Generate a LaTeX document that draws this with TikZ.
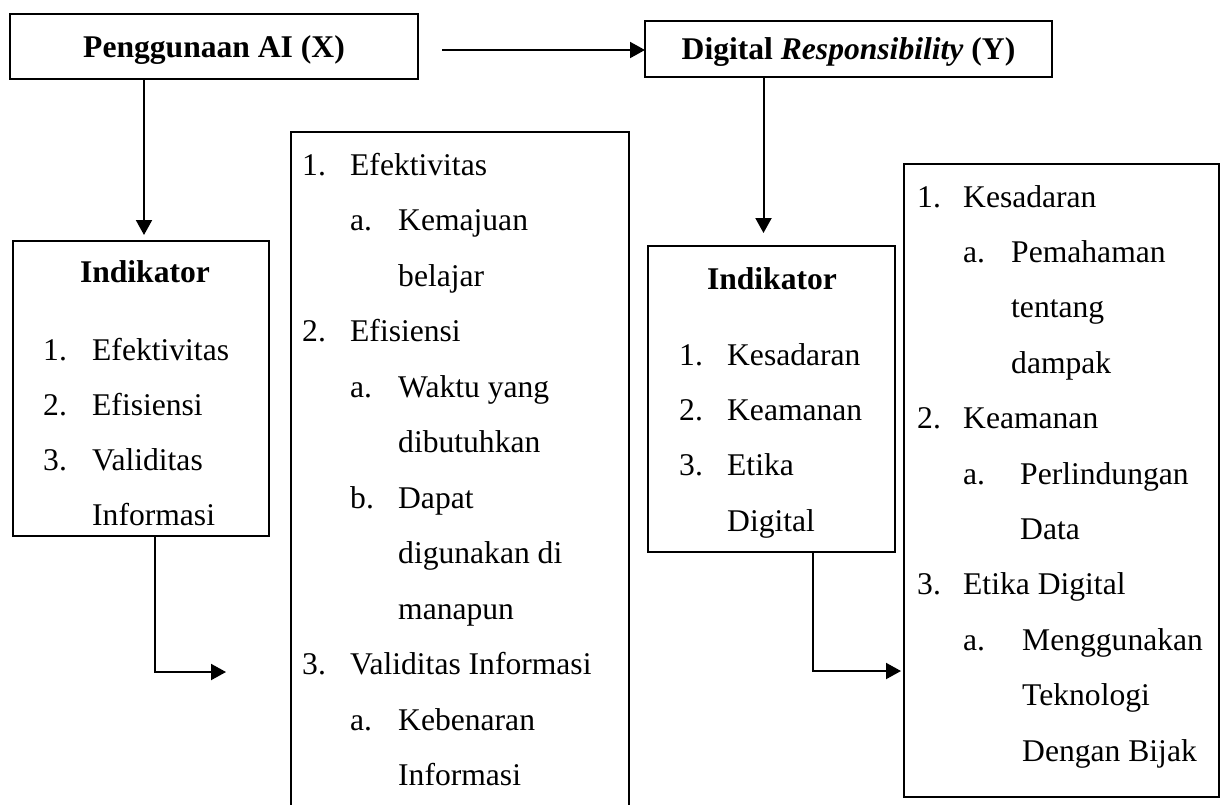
\documentclass[tikz,border=0pt]{standalone}
\usepackage{fontspec}
\setmainfont{Liberation Serif}
\usetikzlibrary{arrows.meta}
\newcommand{\numbox}[2]{\makebox[#1][l]{#2}}
\begin{document}
\begin{tikzpicture}[x=1pt,y=-1pt,
  boxnode/.style={draw, line width=2.2pt, rectangle, inner sep=0pt, outer sep=0pt, anchor=north west},
  txt/.style={anchor=base west, inner sep=0pt, font=\fontsize{31.6}{38}\selectfont},
  ttl/.style={font=\fontsize{31.6}{38}\selectfont\bfseries},
  arr/.style={line width=2pt, -{Triangle[length=15pt,width=16pt]}}]
\useasboundingbox (0,0) rectangle (1221,804);

% top boxes
\node[boxnode, ttl, text height=21pt, text depth=0pt, minimum width=408pt, minimum height=65pt] (X) at (10,14) {Penggunaan AI (X)};
\node[boxnode, ttl, text height=21pt, text depth=0pt, minimum width=407pt, minimum height=56pt] (Y) at (645,21) {Digital \textit{Responsibility} (Y)};

% indicator boxes
\node[boxnode, minimum width=256pt, minimum height=295pt] (IX) at (13,241) {};
\node[boxnode, minimum width=247pt, minimum height=306pt] (IY) at (648,246) {};

% middle open box
\node[boxnode, draw=none, minimum width=338pt, minimum height=700pt] (M) at (291,132) {};
\draw[line width=2.2pt] (M.south west) -- (M.north west) -- (M.north east) -- (M.south east);

% right box
\node[boxnode, minimum width=315pt, minimum height=633pt] (R) at (904,164) {};

% Indikator X texts
\node[ttl, anchor=base, inner sep=0pt] (IXt) at (145,282) {Indikator};
\node[txt] (ix1) at (43,360) {\numbox{49pt}{1.}Efektivitas};
\node[txt] (ix2) at (43,415) {\numbox{49pt}{2.}Efisiensi};
\node[txt] (ix3) at (43,470) {\numbox{49pt}{3.}Validitas};
\node[txt] (ix4) at (92,525) {Informasi};

% Indikator Y texts
\node[ttl, anchor=base, inner sep=0pt] (IYt) at (772,289) {Indikator};
\node[txt] (iy1) at (679,365) {\numbox{48pt}{1.}Kesadaran};
\node[txt] (iy2) at (679,420) {\numbox{48pt}{2.}Keamanan};
\node[txt] (iy3) at (679,475) {\numbox{48pt}{3.}Etika};
\node[txt] (iy4) at (727,531) {Digital};

% middle list
\node[txt] (m1) at (302,175) {\numbox{48pt}{1.}Efektivitas};
\node[txt] (m2) at (350,230.5) {\numbox{48pt}{a.}Kemajuan};
\node[txt] (m3) at (398,286) {belajar};
\node[txt] (m4) at (302,341.5) {\numbox{48pt}{2.}Efisiensi};
\node[txt] (m5) at (350,397) {\numbox{48pt}{a.}Waktu yang};
\node[txt] (m6) at (398,452.5) {dibutuhkan};
\node[txt] (m7) at (350,508) {\numbox{48pt}{b.}Dapat};
\node[txt] (m8) at (398,563.5) {digunakan di};
\node[txt] (m9) at (398,619) {manapun};
\node[txt] (m10) at (302,674.5) {\numbox{48pt}{3.}Validitas Informasi};
\node[txt] (m11) at (350,730) {\numbox{48pt}{a.}Kebenaran};
\node[txt] (m12) at (398,785.5) {Informasi};

% right list
\node[txt] (r1) at (917,207) {\numbox{46pt}{1.}Kesadaran};
\node[txt] (r2) at (963,262.4) {\numbox{48pt}{a.}Pemahaman};
\node[txt] (r3) at (1011,317.8) {tentang};
\node[txt] (r4) at (1011,373.2) {dampak};
\node[txt] (r5) at (917,428.6) {\numbox{46pt}{2.}Keamanan};
\node[txt] (r6) at (963,484) {\numbox{57pt}{a.}Perlindungan};
\node[txt] (r7) at (1020,539.4) {Data};
\node[txt] (r8) at (917,594.8) {\numbox{46pt}{3.}Etika Digital};
\node[txt] (r9) at (963,650.2) {\numbox{59pt}{a.}Menggunakan};
\node[txt] (r10) at (1022,705.6) {Teknologi};
\node[txt] (r11) at (1022,761) {Dengan Bijak};

% connectors
\coordinate (xa) at (442,50);
\draw[arr] (xa) -- (xa -| Y.west);
\draw[arr, shorten >=6pt] ([xshift=3pt]IX.north |- X.south) -- ([xshift=3pt]IX.north);
\draw[arr, shorten >=13pt] ([xshift=-8pt]IY.north |- Y.south) -- ([xshift=-8pt]IY.north);
\coordinate (ex) at (226,672);
\draw[arr] ([xshift=14pt]IX.south) |- (ex);
\coordinate (ey) at (0,671);
\draw[arr, shorten >=3pt] ([xshift=41.5pt]IY.south) |- (R.west |- ey);
\end{tikzpicture}
\end{document}
